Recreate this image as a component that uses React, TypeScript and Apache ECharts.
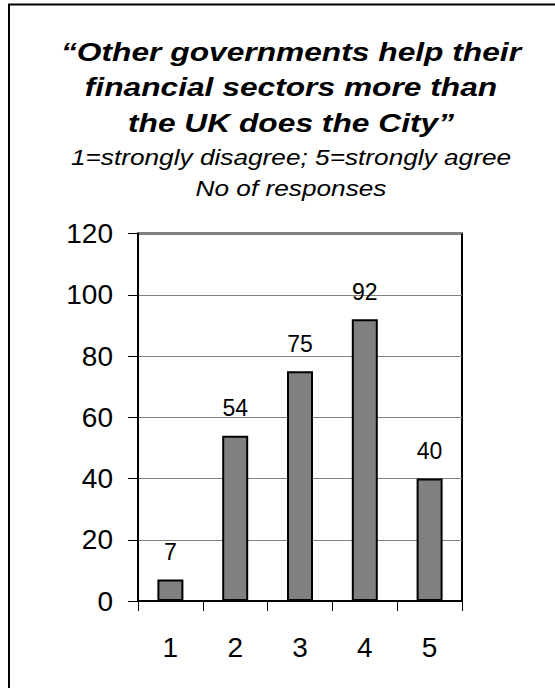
import React, { useEffect, useRef } from "react";
import * as echarts from "echarts";

const categories = ["1", "2", "3", "4", "5"];
const responses = [7, 54, 75, 92, 40];
const titleLines = [
  "\u201COther governments help their",
  "financial sectors more than",
  "the UK does the City\u201D",
];
const subtitleLines = ["1=strongly disagree; 5=strongly agree", "No of responses"];

const FONT = "'Liberation Sans', Arial, Helvetica, sans-serif";

export default function App() {
  const ref = useRef<HTMLDivElement>(null);
  useEffect(() => {
    if (!ref.current) return;
    const chart = echarts.init(ref.current, null, { renderer: "svg" });
    const titleY = [52, 87.5, 123];
    const subY = [157.5, 188.5];
    const graphics: any[] = [
      {
        type: "rect",
        shape: { x: 9, y: 4.5, width: 620, height: 720 },
        style: { fill: "none", stroke: "#000", lineWidth: 2 },
        silent: true,
      },
    ];
    titleLines.forEach((t, i) => {
      graphics.push({
        type: "text",
        x: 291,
        y: titleY[i],
        scaleX: 1.22,
        style: {
          text: t,
          fill: "#000",
          font: `italic bold 26px ${FONT}`,
          textAlign: "center",
          textVerticalAlign: "middle",
        },
      });
    });
    subtitleLines.forEach((t, i) => {
      graphics.push({
        type: "text",
        x: 291,
        y: subY[i],
        scaleX: 1.22,
        style: {
          text: t,
          fill: "#000",
          font: `italic 21.5px ${FONT}`,
          textAlign: "center",
          textVerticalAlign: "middle",
        },
      });
    });
    chart.setOption({
      animation: false,
      backgroundColor: "#fff",
      graphic: graphics,
      grid: {
        left: 138,
        right: 93,
        top: 233.5,
        bottom: 87,
        show: true,
        borderColor: "#000",
        borderWidth: 2,
        backgroundColor: "transparent",
      },
      xAxis: {
        type: "category",
        data: categories,
        boundaryGap: true,
        axisLine: { show: true, lineStyle: { color: "#000", width: 2 } },
        axisTick: { show: true, alignWithLabel: false, length: 10, lineStyle: { color: "#000", width: 1 } },
        axisLabel: {
          color: "#000",
          fontSize: 28,
          lineHeight: 28,
          fontFamily: FONT,
          margin: 32,
        },
      },
      yAxis: {
        type: "value",
        min: 0,
        max: 120,
        interval: 20,
        axisLine: { show: true, lineStyle: { color: "#000", width: 2 } },
        axisTick: { show: true, length: 10, lineStyle: { color: "#000", width: 1 } },
        axisLabel: {
          color: "#000",
          fontSize: 28,
          lineHeight: 28,
          fontFamily: FONT,
          margin: 25,
        },
        splitLine: { show: true, lineStyle: { color: "#808080", width: 1 } },
      },
      series: [
        {
          type: "bar",
          data: responses,
          barWidth: 26,
          itemStyle: { color: "#808080", borderColor: "#000", borderWidth: 2 },
          label: {
            show: true,
            position: "top",
            distance: 16,
            color: "#000",
            fontSize: 23,
            lineHeight: 23,
            fontFamily: FONT,
          },
        },
      ],
    });
    return () => chart.dispose();
  }, []);
  return (
    <div
      ref={ref}
      style={{ position: "fixed", left: 0, top: 0, width: 555, height: 688 }}
    />
  );
}
